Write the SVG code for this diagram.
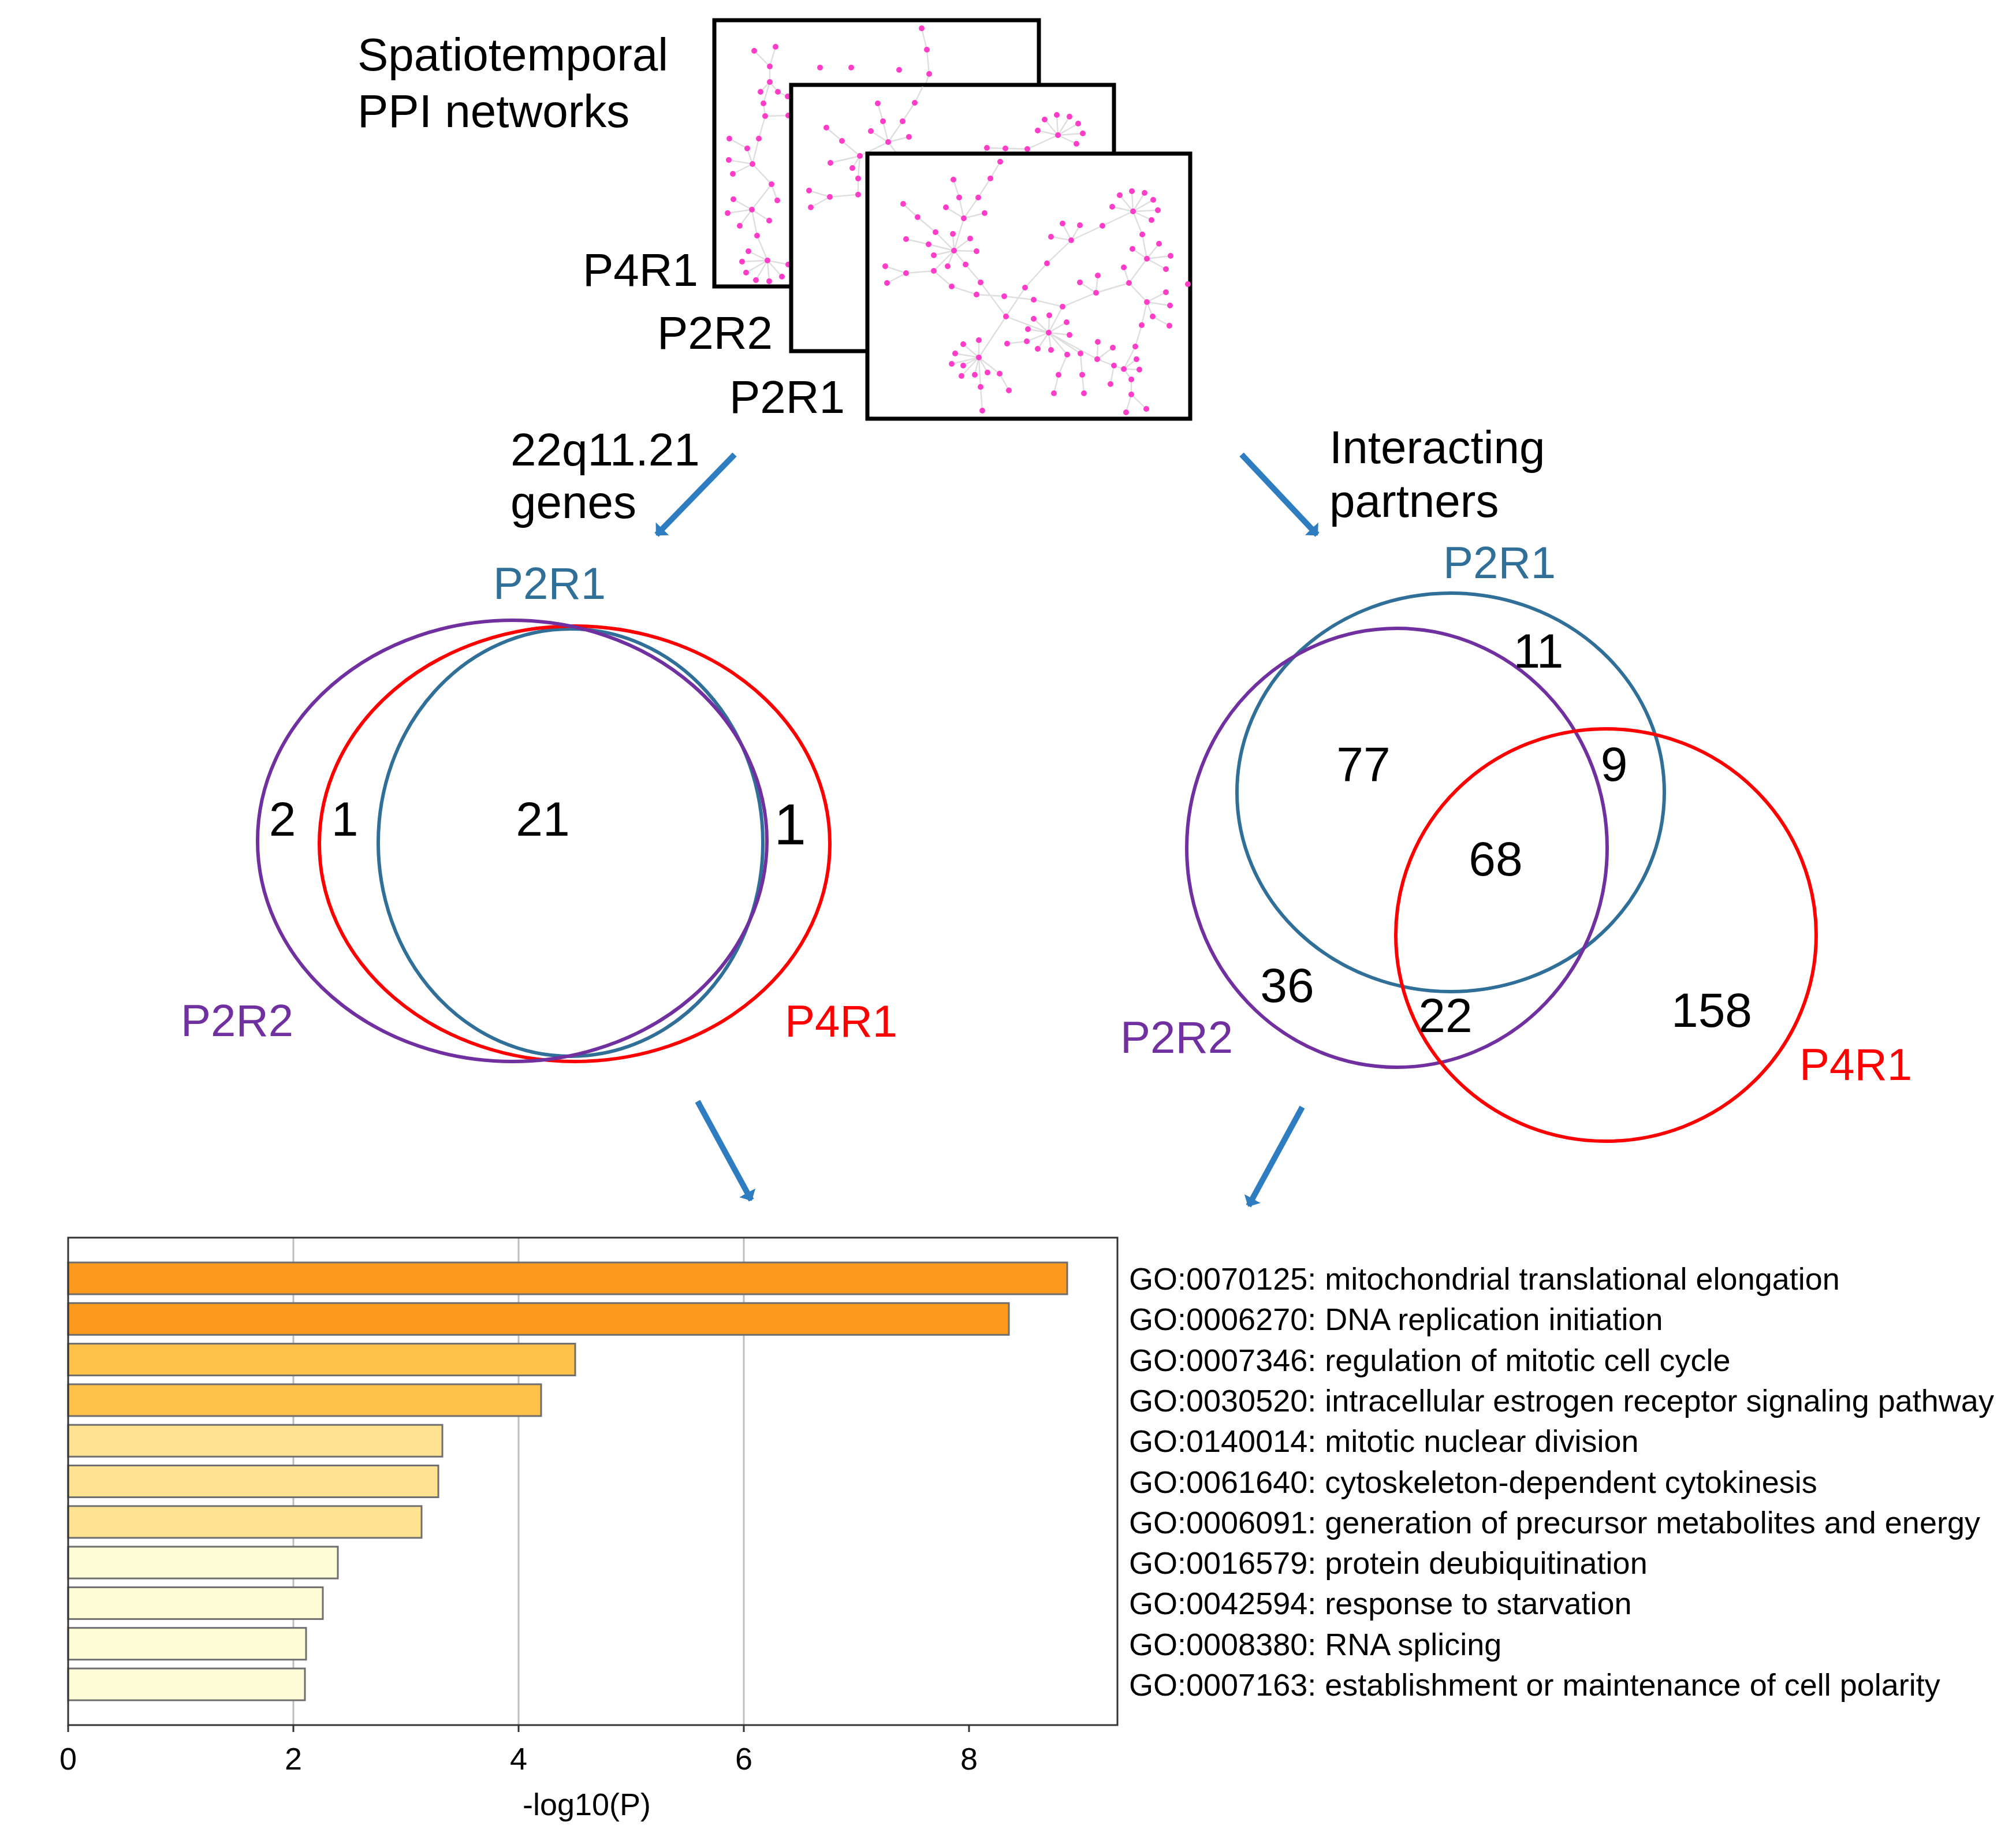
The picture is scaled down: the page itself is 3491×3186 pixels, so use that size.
<svg xmlns="http://www.w3.org/2000/svg" width="3491" height="3186" viewBox="0 0 3491 3186">
<defs>
<style>
text { font-family: "Liberation Sans", Arial, sans-serif; fill: #000; }
.big { font-size: 80px; }
.lab { font-size: 78px; }
.num { font-size: 84px; text-anchor: middle; }
.frame { fill: #fff; stroke: #000; stroke-width: 7; }
.edge { fill: none; stroke: #dedede; stroke-width: 2.4; }
.dot circle { fill: #ff3dc8; r: 5px; }
.arrow { stroke: #2e7dc1; stroke-width: 10; fill: none; marker-end: url(#ah); }
.venn { fill: none; stroke-width: 6; }
.blue { stroke: #306f98; }
.purple { stroke: #7030a0; }
.red { stroke: #ff0000; }
.tblue { fill: #306f98; }
.tpurple { fill: #7030a0; }
.tred { fill: #ff0000; }
.bar { stroke: #6e6e6e; stroke-width: 3; }
.c1 { fill: #fb9a1e; }
.c2 { fill: #fec24b; }
.c3 { fill: #ffe391; }
.c4 { fill: #fffdd8; }
.go { font-size: 54px; }
.tick { font-size: 54px; text-anchor: middle; }
.grid { stroke: #bdbdbd; stroke-width: 3; }
.axis { stroke: #333; stroke-width: 3; fill: none; }
</style>
<marker id="ah" markerUnits="strokeWidth" markerWidth="1.6" markerHeight="3.2" viewBox="0 0 10 20" refX="9" refY="10" orient="auto">
<path d="M0,0 L10,10 L0,20 z" fill="#2e7dc1"/>
</marker>
</defs>
<rect width="3491" height="3186" fill="#fff"/>

<g id="title">
<text class="big" x="619" y="122">Spatiotemporal</text>
<text class="big" x="619" y="220">PPI networks</text>
</g>

<g id="net-P4R1">
<rect class="frame" x="1237" y="35" width="562" height="461"/>
<path class="edge" d="M1596,49 L1605,86 L1609,128 L1598,160 M1343,81 L1333,115 M1306,88 L1333,115 L1333,142 L1317,159 M1333,142 L1347,159 L1364,167 L1380,175 M1333,142 L1322,179 L1325,201 L1314,240 L1303,284 M1325,201 L1365,200 M1303,284 L1294,257 L1263,240 M1303,284 L1262,277 M1303,284 L1269,301 M1303,284 L1336,319 L1346,347 M1336,319 L1302,363 M1302,363 L1270,345 M1302,363 L1260,369 M1302,363 L1332,382 M1302,363 L1281,391 M1302,363 L1311,408 L1329,451 M1329,451 L1296,435 M1329,451 L1285,453 M1329,451 L1292,472 M1329,451 L1309,485 M1329,451 L1332,487 M1329,451 L1354,479 M1329,451 L1365,458"/>
<g class="dot">
<circle cx="1596" cy="49" r="5"/><circle cx="1605" cy="86" r="5"/><circle cx="1609" cy="128" r="5"/>
<circle cx="1306" cy="88" r="5"/><circle cx="1343" cy="81" r="5"/><circle cx="1333" cy="115" r="5"/>
<circle cx="1420" cy="117" r="5"/><circle cx="1474" cy="117" r="5"/><circle cx="1557" cy="121" r="5"/>
<circle cx="1333" cy="142" r="5"/><circle cx="1317" cy="159" r="5"/><circle cx="1347" cy="159" r="5"/>
<circle cx="1364" cy="167" r="5"/><circle cx="1322" cy="179" r="5"/><circle cx="1325" cy="201" r="5"/>
<circle cx="1365" cy="200" r="5"/><circle cx="1263" cy="240" r="5"/><circle cx="1314" cy="240" r="5"/>
<circle cx="1294" cy="257" r="5"/><circle cx="1262" cy="277" r="5"/><circle cx="1303" cy="284" r="5"/>
<circle cx="1269" cy="301" r="5"/><circle cx="1336" cy="319" r="5"/><circle cx="1346" cy="347" r="5"/>
<circle cx="1270" cy="345" r="5"/><circle cx="1302" cy="363" r="5"/><circle cx="1260" cy="369" r="5"/>
<circle cx="1332" cy="382" r="5"/><circle cx="1281" cy="391" r="5"/><circle cx="1311" cy="408" r="5"/>
<circle cx="1296" cy="435" r="5"/><circle cx="1329" cy="451" r="5"/><circle cx="1285" cy="453" r="5"/>
<circle cx="1292" cy="472" r="5"/><circle cx="1309" cy="485" r="5"/><circle cx="1332" cy="487" r="5"/>
<circle cx="1354" cy="479" r="5"/><circle cx="1365" cy="458" r="5"/>
</g>
<text class="big" x="1209" y="495" text-anchor="end">P4R1</text>
</g>

<g id="net-P2R2">
<rect class="frame" x="1370" y="147" width="559" height="461"/>
<path class="edge" d="M1520,179 L1529,210 L1538,246 M1584,178 L1563,210 L1538,246 M1584,178 L1598,150 M1508,227 L1538,246 M1574,237 L1538,246 M1431,221 L1458,244 L1489,270 L1538,246 M1489,270 L1438,282 M1489,270 L1476,291 M1489,270 L1486,309 L1486,337 L1437,341 L1401,330 M1437,341 L1404,359 M1832,234 L1809,207 M1832,234 L1830,199 M1832,234 L1852,202 M1832,234 L1867,214 M1832,234 L1875,231 M1832,234 L1864,249 M1832,234 L1797,226 M1832,234 L1779,258 L1741,257 L1709,256 L1700,275 M1538,246 L1560,275"/>
<g class="dot">
<circle cx="1520" cy="179" r="5"/><circle cx="1584" cy="178" r="5"/><circle cx="1529" cy="210" r="5"/>
<circle cx="1563" cy="210" r="5"/><circle cx="1508" cy="227" r="5"/><circle cx="1538" cy="246" r="5"/>
<circle cx="1574" cy="237" r="5"/><circle cx="1431" cy="221" r="5"/><circle cx="1458" cy="244" r="5"/>
<circle cx="1489" cy="270" r="5"/><circle cx="1438" cy="282" r="5"/><circle cx="1476" cy="291" r="5"/>
<circle cx="1486" cy="309" r="5"/><circle cx="1401" cy="330" r="5"/><circle cx="1437" cy="341" r="5"/>
<circle cx="1486" cy="337" r="5"/><circle cx="1404" cy="359" r="5"/><circle cx="1809" cy="207" r="5"/>
<circle cx="1830" cy="199" r="5"/><circle cx="1852" cy="202" r="5"/><circle cx="1867" cy="214" r="5"/>
<circle cx="1875" cy="231" r="5"/><circle cx="1864" cy="249" r="5"/><circle cx="1797" cy="226" r="5"/>
<circle cx="1832" cy="234" r="5"/><circle cx="1779" cy="258" r="5"/><circle cx="1741" cy="257" r="5"/>
<circle cx="1709" cy="256" r="5"/>
</g>
<text class="big" x="1338" y="604" text-anchor="end">P2R2</text>
</g>

<g id="net-P2R1">
<rect class="frame" x="1502" y="266" width="559" height="459"/>
<path class="edge" d="M1732,280 L1715,309 L1694,342 L1669,378 L1652,434 M1651,311 L1661,342 L1669,378 M1669,378 L1638,359 M1669,378 L1705,369 M1564,353 L1589,376 L1620,402 L1652,434 M1652,434 L1650,405 M1652,434 L1680,413 M1652,434 L1608,423 L1569,414 M1652,434 L1691,435 M1652,434 L1617,442 M1652,434 L1641,461 M1652,434 L1672,458 M1652,434 L1617,469 M1617,469 L1569,473 L1533,461 M1569,473 L1536,490 M1617,469 L1648,496 L1691,510 L1739,513 L1790,519 L1840,531 L1898,507 M1672,458 L1698,489 L1742,548 M1742,548 L1775,498 L1813,456 L1855,416 M1855,416 L1820,410 M1855,416 L1840,387 M1855,416 L1870,390 M1855,416 L1909,391 L1962,366 M1962,366 L1939,338 M1962,366 L1960,331 M1962,366 L1982,334 M1962,366 L1997,346 M1962,366 L2005,364 M1962,366 L1994,381 M1962,366 L1926,358 M1962,366 L1978,406 L1986,448 M1986,448 L2007,422 M1986,448 L1961,431 M1986,448 L2027,443 M1986,448 L2019,466 M1986,448 L1955,490 M1955,490 L1946,463 M1955,490 L1898,507 M1955,490 L1986,523 M1898,507 L1901,477 M1898,507 L1870,489 M1840,531 L1816,576 M1742,548 L1816,576 M1742,548 L1695,619 M1816,576 L1790,552 M1816,576 L1817,546 M1816,576 L1847,558 M1816,576 L1852,580 M1816,576 L1780,570 M1816,576 L1778,591 L1744,595 M1816,576 L1797,604 M1816,576 L1820,606 M1816,576 L1848,614 L1833,649 L1825,681 M1816,576 L1871,612 L1874,649 L1877,681 M1816,576 L1900,622 M1900,622 L1901,592 M1900,622 L1927,602 M1900,622 L1929,633 L1946,639 M1929,633 L1923,665 M1986,523 L1977,563 L1966,600 L1946,639 M1946,639 L1968,622 M1946,639 L1973,640 M1946,639 L1959,657 L1959,683 L1985,708 M1959,683 L1950,714 M1986,523 L2019,506 M1986,523 L2026,529 M1986,523 L1996,548 L2025,564 M1695,619 L1695,589 M1695,619 L1668,596 M1695,619 L1654,612 M1695,619 L1648,630 M1695,619 L1668,633 M1695,619 L1665,651 M1695,619 L1688,649 M1695,619 L1710,645 M1695,619 L1731,647 L1747,676 M1695,619 L1698,670 L1701,711"/>
<g class="dot">
<circle cx="1732" cy="280" r="5"/><circle cx="1715" cy="309" r="5"/><circle cx="1651" cy="311" r="5"/>
<circle cx="1661" cy="342" r="5"/><circle cx="1694" cy="342" r="5"/><circle cx="1564" cy="353" r="5"/>
<circle cx="1638" cy="359" r="5"/><circle cx="1669" cy="378" r="5"/><circle cx="1705" cy="369" r="5"/>
<circle cx="1589" cy="376" r="5"/><circle cx="1620" cy="402" r="5"/><circle cx="1650" cy="405" r="5"/>
<circle cx="1680" cy="413" r="5"/><circle cx="1569" cy="414" r="5"/><circle cx="1608" cy="423" r="5"/>
<circle cx="1652" cy="434" r="5"/><circle cx="1691" cy="435" r="5"/><circle cx="1617" cy="442" r="5"/>
<circle cx="1641" cy="461" r="5"/><circle cx="1672" cy="458" r="5"/><circle cx="1533" cy="461" r="5"/>
<circle cx="1569" cy="473" r="5"/><circle cx="1617" cy="469" r="5"/><circle cx="1536" cy="490" r="5"/>
<circle cx="1648" cy="496" r="5"/><circle cx="1698" cy="489" r="5"/><circle cx="1691" cy="510" r="5"/>
<circle cx="1739" cy="513" r="5"/><circle cx="1775" cy="498" r="5"/><circle cx="1813" cy="456" r="5"/>
<circle cx="1855" cy="416" r="5"/><circle cx="1820" cy="410" r="5"/><circle cx="1840" cy="387" r="5"/>
<circle cx="1870" cy="390" r="5"/><circle cx="1909" cy="391" r="5"/><circle cx="1962" cy="366" r="5"/>
<circle cx="1939" cy="338" r="5"/><circle cx="1960" cy="331" r="5"/><circle cx="1982" cy="334" r="5"/>
<circle cx="1997" cy="346" r="5"/><circle cx="2005" cy="364" r="5"/><circle cx="1994" cy="381" r="5"/>
<circle cx="1926" cy="358" r="5"/><circle cx="1978" cy="406" r="5"/><circle cx="2007" cy="422" r="5"/>
<circle cx="1961" cy="431" r="5"/><circle cx="1986" cy="448" r="5"/><circle cx="2027" cy="443" r="5"/>
<circle cx="2019" cy="466" r="5"/><circle cx="1946" cy="463" r="5"/><circle cx="1955" cy="490" r="5"/>
<circle cx="1901" cy="477" r="5"/><circle cx="1870" cy="489" r="5"/><circle cx="1898" cy="507" r="5"/>
<circle cx="1840" cy="531" r="5"/><circle cx="1790" cy="519" r="5"/><circle cx="1742" cy="548" r="5"/>
<circle cx="1790" cy="552" r="5"/><circle cx="1817" cy="546" r="5"/><circle cx="1847" cy="558" r="5"/>
<circle cx="1816" cy="576" r="5"/><circle cx="1852" cy="580" r="5"/><circle cx="1780" cy="570" r="5"/>
<circle cx="1778" cy="591" r="5"/><circle cx="1744" cy="595" r="5"/><circle cx="1797" cy="604" r="5"/>
<circle cx="1820" cy="606" r="5"/><circle cx="1848" cy="614" r="5"/><circle cx="1871" cy="612" r="5"/>
<circle cx="1900" cy="622" r="5"/><circle cx="1901" cy="592" r="5"/><circle cx="1927" cy="602" r="5"/>
<circle cx="1929" cy="633" r="5"/><circle cx="1946" cy="639" r="5"/><circle cx="1966" cy="600" r="5"/>
<circle cx="1968" cy="622" r="5"/><circle cx="1973" cy="640" r="5"/><circle cx="1959" cy="657" r="5"/>
<circle cx="1959" cy="683" r="5"/><circle cx="1985" cy="708" r="5"/><circle cx="1950" cy="714" r="5"/>
<circle cx="1923" cy="665" r="5"/><circle cx="1986" cy="523" r="5"/><circle cx="2019" cy="506" r="5"/>
<circle cx="2026" cy="529" r="5"/><circle cx="1996" cy="548" r="5"/><circle cx="2025" cy="564" r="5"/>
<circle cx="1977" cy="563" r="5"/><circle cx="2057" cy="492" r="5"/><circle cx="1695" cy="619" r="5"/>
<circle cx="1695" cy="589" r="5"/><circle cx="1668" cy="596" r="5"/><circle cx="1654" cy="612" r="5"/>
<circle cx="1648" cy="630" r="5"/><circle cx="1668" cy="633" r="5"/><circle cx="1665" cy="651" r="5"/>
<circle cx="1688" cy="649" r="5"/><circle cx="1710" cy="645" r="5"/><circle cx="1731" cy="647" r="5"/>
<circle cx="1747" cy="676" r="5"/><circle cx="1698" cy="670" r="5"/><circle cx="1701" cy="711" r="5"/>
<circle cx="1833" cy="649" r="5"/><circle cx="1825" cy="681" r="5"/><circle cx="1874" cy="649" r="5"/>
<circle cx="1877" cy="681" r="5"/>
</g>
<text class="big" x="1463" y="715" text-anchor="end">P2R1</text>
</g>

<g id="label-genes">
<text class="big" x="884" y="806">22q11.21</text>
<text class="big" x="884" y="897">genes</text>
</g>
<g id="label-partners">
<text class="big" x="2302" y="802">Interacting</text>
<text class="big" x="2302" y="895">partners</text>
</g>

<g id="connectors">
<line class="arrow" x1="1272" y1="787" x2="1137" y2="926"/>
<line class="arrow" x1="2150" y1="787" x2="2281" y2="926"/>
<line class="arrow" x1="1208" y1="1907" x2="1301" y2="2078"/>
<line class="arrow" x1="2255" y1="1917" x2="2162" y2="2088"/>
</g>

<g id="venn-genes">
<ellipse class="venn blue" cx="988" cy="1459" rx="333" ry="370"/>
<ellipse class="venn red" cx="995" cy="1461" rx="442" ry="377"/>
<ellipse class="venn purple" cx="887" cy="1456" rx="441" ry="382"/>
<text class="lab tblue" x="854" y="1037">P2R1</text>
<text class="lab tpurple" x="313" y="1794">P2R2</text>
<text class="lab tred" x="1359" y="1795">P4R1</text>
<text class="num" x="489" y="1447">2</text>
<text class="num" x="597" y="1447">1</text>
<text class="num" x="940" y="1447">21</text>
<text class="num" x="1368" y="1462" style="font-size:100px">1</text>
</g>

<g id="venn-partners">
<ellipse class="venn blue" cx="2512" cy="1372" rx="370" ry="345"/>
<ellipse class="venn purple" cx="2419" cy="1468" rx="364" ry="380"/>
<ellipse class="venn red" cx="2781" cy="1619" rx="364" ry="357"/>
<text class="lab tblue" x="2499" y="1001">P2R1</text>
<text class="lab tpurple" x="1940" y="1823">P2R2</text>
<text class="lab tred" x="3116" y="1870">P4R1</text>
<text class="num" x="2664" y="1156">11</text>
<text class="num" x="2361" y="1352">77</text>
<text class="num" x="2795" y="1352">9</text>
<text class="num" x="2590" y="1516">68</text>
<text class="num" x="2229" y="1735">36</text>
<text class="num" x="2503" y="1787">22</text>
<text class="num" x="2964" y="1778">158</text>
</g>

<g id="bar-chart">
<line class="grid" x1="508" y1="2143" x2="508" y2="2987"/>
<line class="grid" x1="898" y1="2143" x2="898" y2="2987"/>
<line class="grid" x1="1288" y1="2143" x2="1288" y2="2987"/>
<g class="bar">
<rect class="c1" x="118" y="2186" width="1730" height="55"/>
<rect class="c1" x="118" y="2256.3" width="1629" height="55"/>
<rect class="c2" x="118" y="2326.6" width="878" height="55"/>
<rect class="c2" x="118" y="2396.9" width="819" height="55"/>
<rect class="c3" x="118" y="2467.2" width="648" height="55"/>
<rect class="c3" x="118" y="2537.5" width="641" height="55"/>
<rect class="c3" x="118" y="2607.8" width="612" height="55"/>
<rect class="c4" x="118" y="2678.1" width="467" height="55"/>
<rect class="c4" x="118" y="2748.4" width="441" height="55"/>
<rect class="c4" x="118" y="2818.7" width="412" height="55"/>
<rect class="c4" x="118" y="2889" width="410" height="55"/>
</g>
<rect class="axis" x="118" y="2143" width="1817" height="844"/>
<path class="axis" d="M118,2987 V2999 M508,2987 V2999 M898,2987 V2999 M1288,2987 V2999 M1678,2987 V2999"/>
<text class="tick" x="118" y="3064">0</text>
<text class="tick" x="508" y="3064">2</text>
<text class="tick" x="898" y="3064">4</text>
<text class="tick" x="1288" y="3064">6</text>
<text class="tick" x="1678" y="3064">8</text>
<text class="tick" x="1016" y="3143">-log10(P)</text>
</g>

<g id="go-terms">
<text class="go" x="1955" y="2233">GO:0070125: mitochondrial translational elongation</text>
<text class="go" x="1955" y="2303">GO:0006270: DNA replication initiation</text>
<text class="go" x="1955" y="2374">GO:0007346: regulation of mitotic cell cycle</text>
<text class="go" x="1955" y="2444">GO:0030520: intracellular estrogen receptor signaling pathway</text>
<text class="go" x="1955" y="2514">GO:0140014: mitotic nuclear division</text>
<text class="go" x="1955" y="2585">GO:0061640: cytoskeleton-dependent cytokinesis</text>
<text class="go" x="1955" y="2655">GO:0006091: generation of precursor metabolites and energy</text>
<text class="go" x="1955" y="2725">GO:0016579: protein deubiquitination</text>
<text class="go" x="1955" y="2795">GO:0042594: response to starvation</text>
<text class="go" x="1955" y="2866">GO:0008380: RNA splicing</text>
<text class="go" x="1955" y="2936">GO:0007163: establishment or maintenance of cell polarity</text>
</g>
</svg>
